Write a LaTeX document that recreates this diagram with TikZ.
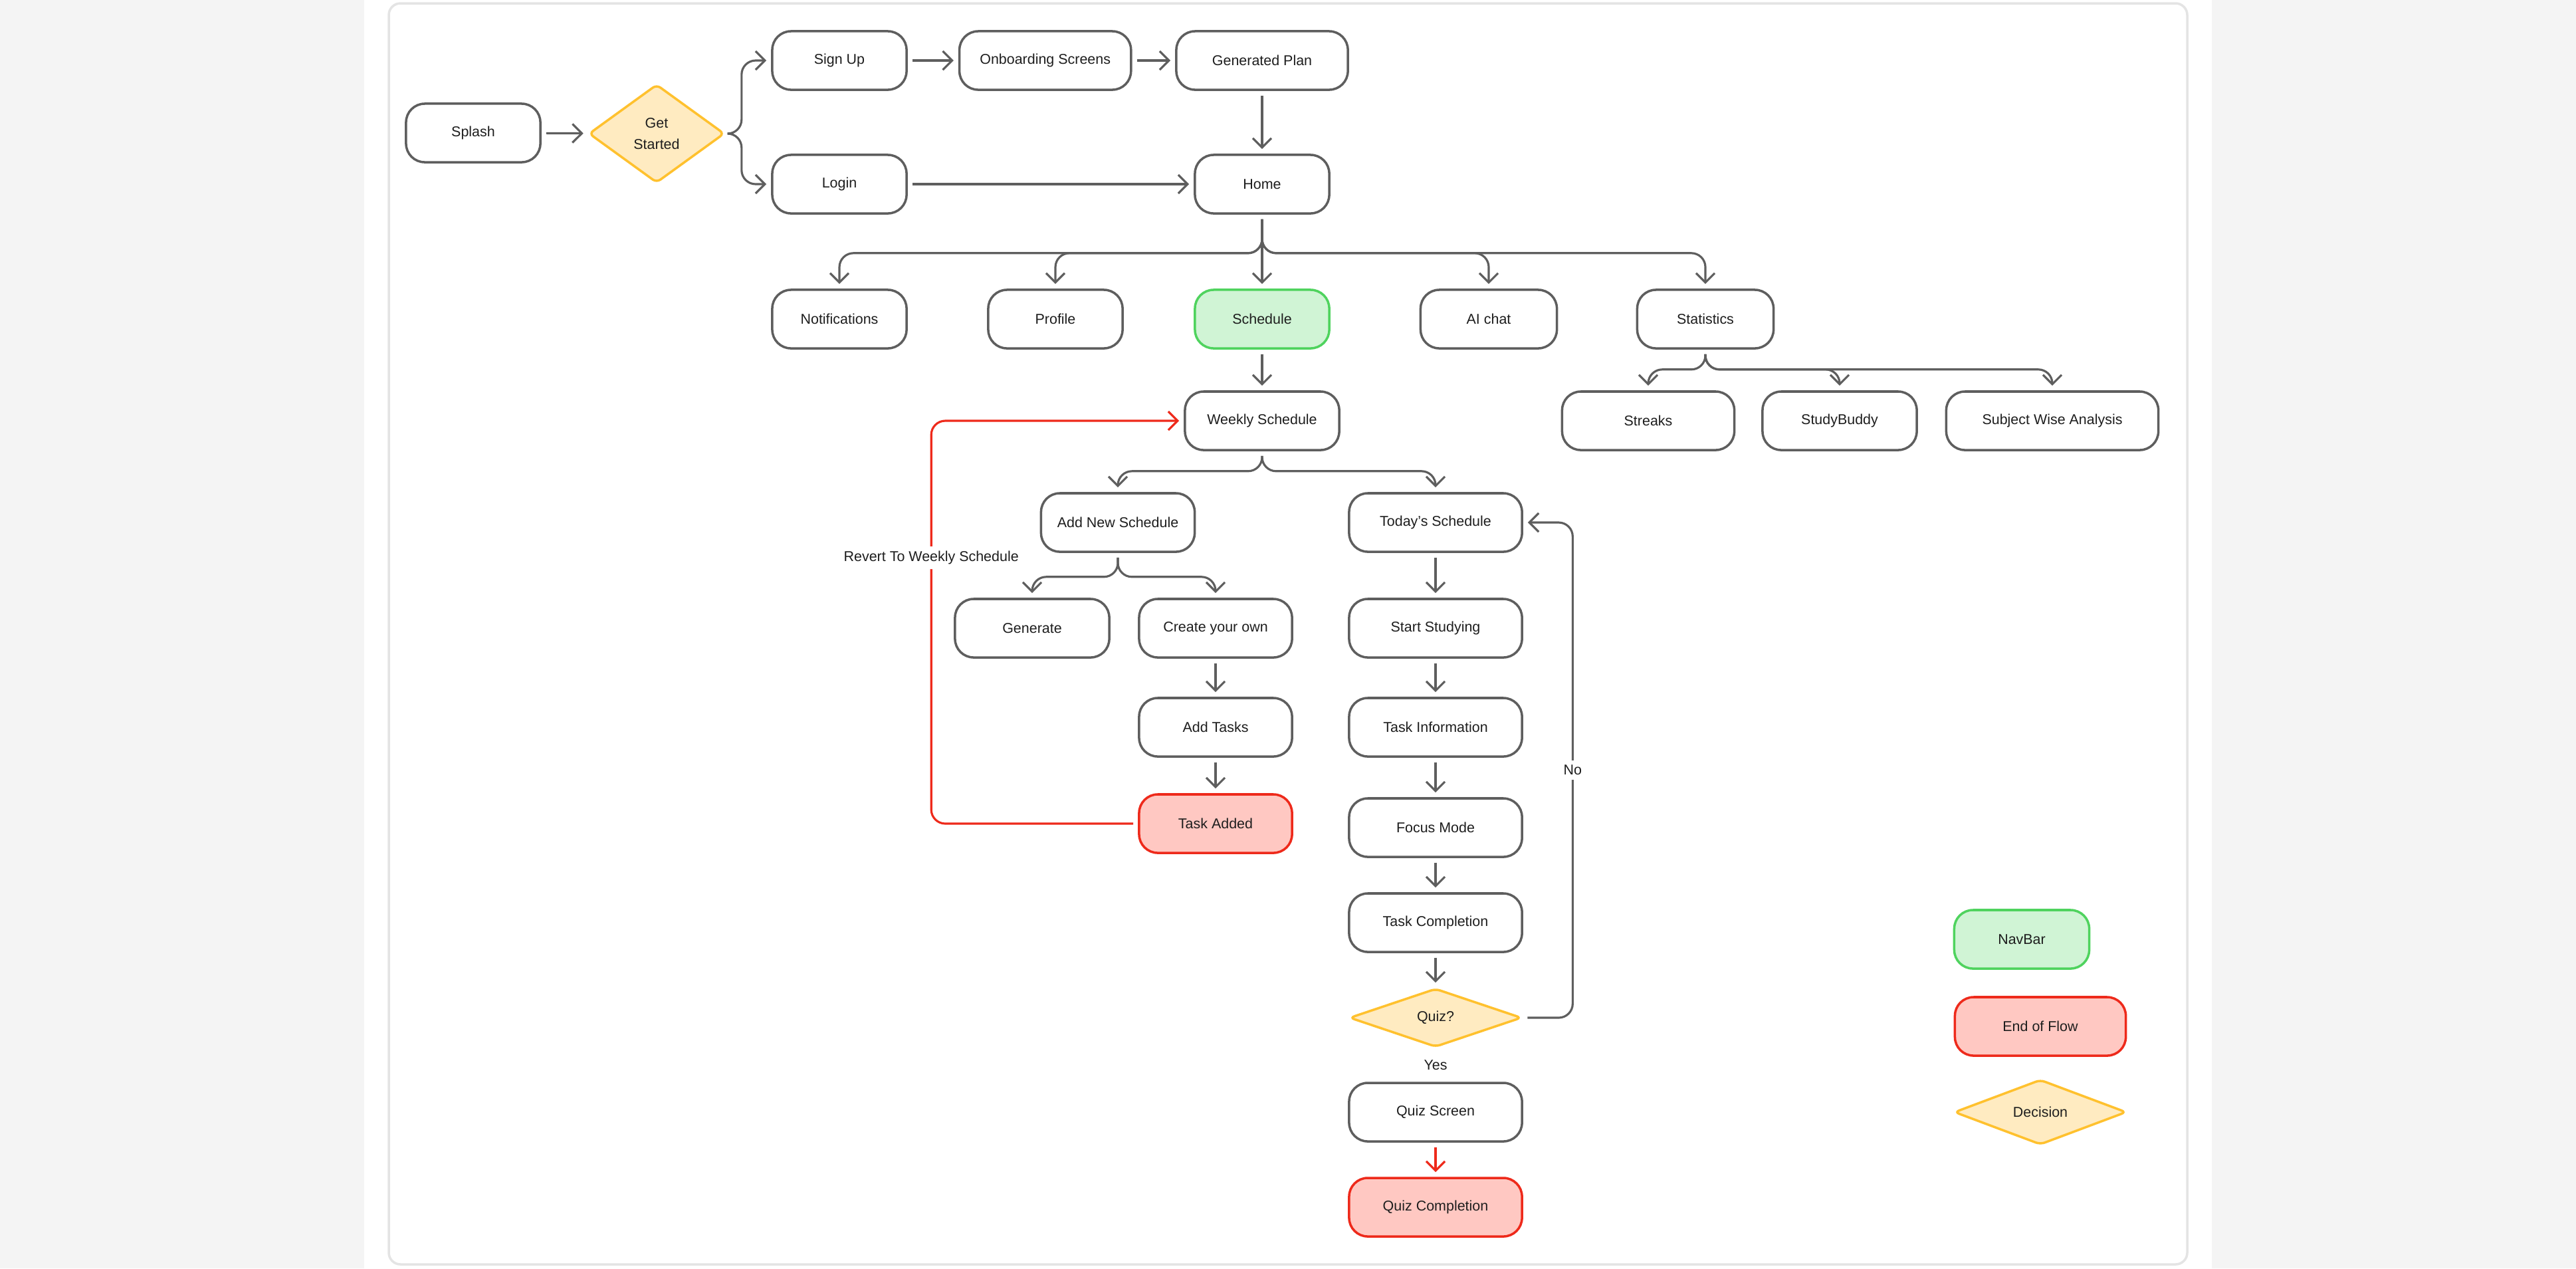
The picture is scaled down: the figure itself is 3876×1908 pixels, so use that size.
\documentclass[tikz,border=0pt]{standalone}
\usepackage{fontspec}
\setmainfont{Liberation Sans}
\usetikzlibrary{positioning,arrows.meta,shapes.geometric}
\definecolor{pagegrey}{HTML}{F4F4F4}
\definecolor{framegrey}{HTML}{E4E4E4}
\definecolor{linegrey}{HTML}{5E5E5E}
\definecolor{ink}{HTML}{1E1E1E}
\definecolor{navfill}{HTML}{D0F4D5}
\definecolor{navline}{HTML}{4FD35E}
\definecolor{endfill}{HTML}{FFC8C2}
\definecolor{endline}{HTML}{EE2A1B}
\definecolor{askfill}{HTML}{FFEBC1}
\definecolor{askline}{HTML}{FFC12E}

\begin{document}
\begin{tikzpicture}[x=0.01cm, y=-0.01cm,
  screen/.style={rounded corners=8pt, draw=linegrey, fill=white, line width=1pt, minimum width=2.02cm, minimum height=0.88cm, inner sep=0pt, align=center, text=ink, font=\fontsize{6.1}{9.1}\selectfont},
  navbox/.style={screen, draw=navline, fill=navfill},
  endbox/.style={screen, draw=endline, fill=endfill},
  ask/.style={diamond, rounded corners=2pt, draw=askline, fill=askfill, line width=1pt, inner sep=0pt, align=center, text=ink, font=\fontsize{6.1}{9.1}\selectfont},
  flow/.style={draw=linegrey, line width=0.9pt, -{Straight Barb[length=4pt,width=8pt]}, rounded corners=6pt, shorten <=2pt, shorten >=2pt},
  back/.style={flow, draw=endline},
  edgetext/.style={fill=white, inner sep=2pt, text=ink, font=\fontsize{6.1}{7.3}\selectfont}]

% page and panel
\useasboundingbox (0,0) rectangle (3876,1908);
\fill[pagegrey] (0,0) rectangle (3876,1908);
\fill[white] (548,0) rectangle (3328,1908);
\draw[framegrey, line width=1pt, rounded corners=5pt] (585,5) rectangle (3291,1902);

% entry
\node[screen] (splash) at (712,200) {Splash};
\node[ask, minimum width=2.04cm, minimum height=1.48cm] (getstarted) at (988,201) {Get\\Started};
\node[screen] (signup) at (1263,91) {Sign Up};
\node[screen, minimum width=2.58cm, right=0.76cm of signup] (onboard) {Onboarding Screens};
\node[screen, minimum width=2.58cm] (genplan) at (1899,91) {Generated Plan};
\node[screen] (login) at (1263,277) {Login};
\node[screen] (home) at (1899,277) {Home};

% navbar row
\node[screen] (notif) at (1263,480) {Notifications};
\node[screen] (profile) at (1588,480) {Profile};
\node[navbox] (schedule) at (1899,480) {Schedule};
\node[screen, minimum width=2.05cm] (aichat) at (2240,480) {AI chat};
\node[screen, minimum width=2.05cm] (stats) at (2566,480) {Statistics};
\node[screen, minimum width=2.59cm] (streaks) at (2480,633) {Streaks};
\node[screen, minimum width=2.32cm] (buddy) at (2768,633) {StudyBuddy};
\node[screen, minimum width=3.19cm] (subject) at (3088,633) {Subject Wise Analysis};

% schedule
\node[screen, minimum width=2.32cm] (weekly) at (1899,633) {Weekly Schedule};
\node[screen, minimum width=2.31cm] (addnew) at (1682,786) {Add New Schedule};
\node[screen, minimum width=2.6cm] (today) at (2160,786) {Today's Schedule};
\node[screen, minimum width=2.32cm] (generate) at (1553,945) {Generate};
\node[screen, minimum width=2.3cm] (createown) at (1829,945) {Create your own};
\node[screen, minimum width=2.3cm] (addtasks) at (1829,1094) {Add Tasks};
\node[endbox, minimum width=2.3cm] (taskadded) at (1829,1239) {Task Added};
\node[screen, minimum width=2.6cm] (start) at (2160,945) {Start Studying};
\node[screen, minimum width=2.6cm] (taskinfo) at (2160,1094) {Task Information};
\node[screen, minimum width=2.6cm] (focus) at (2160,1245) {Focus Mode};
\node[screen, minimum width=2.6cm] (taskcomp) at (2160,1388) {Task Completion};
\node[ask, minimum width=2.59cm, minimum height=0.88cm] (quiz) at (2160,1531) {Quiz?};
\node[edgetext, fill=none] (yes) at (2160,1602) {Yes};
\node[screen, minimum width=2.6cm] (quizscreen) at (2160,1673) {Quiz Screen};
\node[endbox, minimum width=2.6cm] (quizcomp) at (2160,1816) {Quiz Completion};

% legend
\node[navbox, minimum width=2.03cm] (navkey) at (3042,1413) {NavBar};
\node[endbox, minimum width=2.57cm] (endkey) at (3070,1544) {End of Flow};
\node[ask, minimum width=2.59cm, minimum height=0.88cm] (askkey) at (3070,1673) {Decision};

% connectors
\draw[flow] (splash) -- (getstarted);
\draw[flow] (getstarted.east) -- ++(24,0) |- (signup);
\draw[flow] (getstarted.east) -- ++(24,0) |- (login);
\draw[flow] (signup) -- (onboard);
\draw[flow] (onboard) -- (genplan);
\draw[flow] (genplan) -- (home);
\draw[flow] (login) -- (home);
\foreach \t in {notif,profile,aichat,stats}
  \draw[flow] (home.south) -- ++(0,58) -| (\t.north);
\draw[flow] (home) -- (schedule);
\foreach \t in {streaks,buddy,subject}
  \draw[flow] (stats.south) -- ++(0,30) -| (\t.north);
\draw[flow] (schedule) -- (weekly);
\foreach \t in {addnew,today}
  \draw[flow] (weekly.south) -- ++(0,30) -| (\t.north);
\foreach \t in {generate,createown}
  \draw[flow] (addnew.south) -- ++(0,36) -| (\t.north);
\draw[flow] (createown) -- (addtasks);
\draw[flow] (addtasks) -- (taskadded);
\draw[back] (taskadded.west) -- ++(-311,0) |- node[pos=0.33, edgetext] {Revert To Weekly Schedule} (weekly.west);
\draw[flow] (today) -- (start);
\draw[flow] (start) -- (taskinfo);
\draw[flow] (taskinfo) -- (focus);
\draw[flow] (focus) -- (taskcomp);
\draw[flow] (taskcomp) -- (quiz);
\draw[flow] (quiz.east) -- ++(75,0) |- node[pos=0.25, edgetext] {No} (today.east);
\draw[back] (quizscreen) -- (quizcomp);
\end{tikzpicture}
\end{document}
